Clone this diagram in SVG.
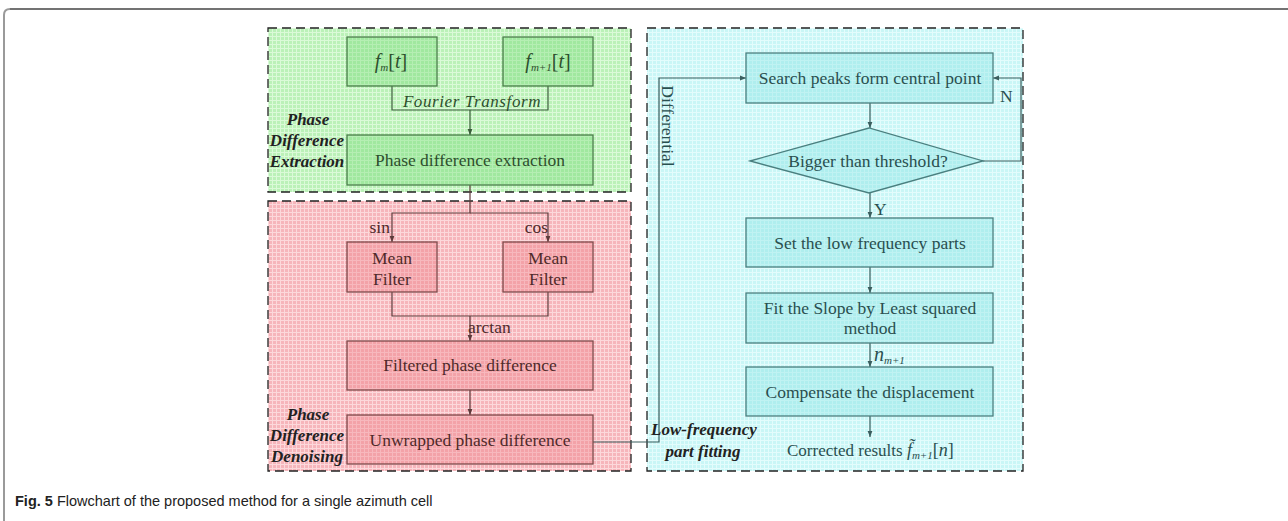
<svg xmlns="http://www.w3.org/2000/svg" width="1288" height="521" viewBox="0 0 1288 521">
  <defs>
    <pattern id="gridG" width="4" height="4" patternUnits="userSpaceOnUse">
      <rect width="4" height="4" fill="#bbf1b8"/>
      <path d="M0 0.5H4M0.5 0V4" stroke="#dbfad8" stroke-width="1"/>
    </pattern>
    <pattern id="gridR" width="4" height="4" patternUnits="userSpaceOnUse">
      <rect width="4" height="4" fill="#f6b5bb"/>
      <path d="M0 0.5H4M0.5 0V4" stroke="#fcd8db" stroke-width="1"/>
    </pattern>
    <pattern id="gridC" width="4" height="4" patternUnits="userSpaceOnUse">
      <rect width="4" height="4" fill="#c9f6f6"/>
      <path d="M0 0.5H4M0.5 0V4" stroke="#e3fcfc" stroke-width="1"/>
    </pattern>
    <marker id="ahG" viewBox="0 0 10 10" refX="10" refY="5" markerWidth="6" markerHeight="6" orient="auto" markerUnits="userSpaceOnUse">
      <path d="M0 1L10 5L0 9Z" fill="#3a5e3a"/>
    </marker>
    <marker id="ahR" viewBox="0 0 10 10" refX="10" refY="5" markerWidth="6" markerHeight="6" orient="auto" markerUnits="userSpaceOnUse">
      <path d="M0 1L10 5L0 9Z" fill="#5e3a3a"/>
    </marker>
    <marker id="ahC" viewBox="0 0 10 10" refX="10" refY="5" markerWidth="6" markerHeight="6" orient="auto" markerUnits="userSpaceOnUse">
      <path d="M0 1L10 5L0 9Z" fill="#3a5e5e"/>
    </marker>
  </defs>
  <style>
    .region { stroke: #222; stroke-width: 1.3; stroke-dasharray: 9 5; }
    .box { stroke-width: 1.3; }
    .g .box { fill: #6fd86f; fill-opacity: 0.35; stroke: #4a7f4a; }
    .r .box { fill: #ee7f88; fill-opacity: 0.35; stroke: #7f4a4a; }
    .c .box { fill: #7fe0e0; fill-opacity: 0.35; stroke: #4a7f7f; }
    text { font-family: "Liberation Serif", "Times New Roman", serif; font-size: 17.5px; }
    .mid { text-anchor: middle; }
    .gt { fill: #2e4f2e; }
    .rt { fill: #4f2a2a; }
    .ct { fill: #2a4f4f; }
    .lbl { font-weight: bold; font-style: italic; font-size: 17px; fill: #222; }
    .it { font-style: italic; }
    .sub { font-size: 11px; }
    text.math { font-size: 20px; }
    text.ft { font-size: 17px; letter-spacing: 0.6px; }
    text.res { font-size: 17px; }
    .wire { fill: none; stroke-width: 1.2; }
    .wg { stroke: #3a5e3a; }
    .wr { stroke: #5e3a3a; }
    .wc { stroke: #3a5e5e; }
    text.cap { font-family: "Liberation Sans", Arial, sans-serif; font-size: 14.5px; fill: #222; }
  </style>

  <!-- figure frame -->
  <path d="M10 9H1288" stroke="#444" stroke-width="1.3" fill="none"/>
  <path d="M4 521V15Q4 9 10 9" stroke="#9a9a9a" stroke-width="2" fill="none"/>

  <!-- stage backgrounds -->
  <g id="stage-extraction">
    <rect class="region" x="268" y="28" width="363" height="164" fill="url(#gridG)"/>
  </g>
  <g id="stage-denoising">
    <rect class="region" x="268" y="201" width="363" height="270" fill="url(#gridR)"/>
  </g>
  <g id="stage-fitting">
    <rect class="region" x="647" y="28" width="376" height="443" fill="url(#gridC)"/>
  </g>

  <!-- connectors -->
  <g id="connectors">
    <path class="wire wg" d="M392 86V110H548V86"/>
    <path class="wire wg" d="M470 110V135" marker-end="url(#ahG)"/>
    <path class="wire wr" d="M470 185V213H392V242" marker-end="url(#ahR)"/>
    <path class="wire wr" d="M470 213H548V242" marker-end="url(#ahR)"/>
    <path class="wire wr" d="M392 292V316H548V292"/>
    <path class="wire wr" d="M470 316V341" marker-end="url(#ahR)"/>
    <path class="wire wr" d="M470 390V415" marker-end="url(#ahR)"/>
    <path class="wire wc" d="M593 442H659V78H746" marker-end="url(#ahC)"/>
    <path class="wire wc" d="M870 103V128" marker-end="url(#ahC)"/>
    <path class="wire wc" d="M983 161H1021V78H993" marker-end="url(#ahC)"/>
    <path class="wire wc" d="M870 193V218" marker-end="url(#ahC)"/>
    <path class="wire wc" d="M870 267V293" marker-end="url(#ahC)"/>
    <path class="wire wc" d="M870 343V367" marker-end="url(#ahC)"/>
    <path class="wire wc" d="M870 416V437" marker-end="url(#ahC)"/>
    <text class="gt it mid ft" x="472" y="107">Fourier Transform</text>
    <text class="rt" x="390" y="233" text-anchor="end">sin</text>
    <text class="rt" x="548" y="233" text-anchor="end">cos</text>
    <text class="rt" x="468" y="333">arctan</text>
    <text class="ct mid" transform="translate(662 126) rotate(90)">Differential</text>
    <text class="ct" x="1000" y="102">N</text>
    <text class="ct" x="874" y="215">Y</text>
    <text class="ct it math" x="874" y="361">n<tspan class="sub" dy="3">m+1</tspan></text>
  </g>

  <!-- stage labels -->
  <g id="label-extraction">
    <text class="lbl mid" x="308" y="125">Phase</text>
    <text class="lbl mid" x="307" y="146">Difference</text>
    <text class="lbl mid" x="307" y="167">Extraction</text>
  </g>
  <g id="label-denoising">
    <text class="lbl mid" x="308" y="420">Phase</text>
    <text class="lbl mid" x="307" y="441">Difference</text>
    <text class="lbl mid" x="307" y="462">Denoising</text>
  </g>
  <g id="label-fitting">
    <text class="lbl mid" x="704" y="435">Low-frequency</text>
    <text class="lbl mid" x="703" y="457">part fitting</text>
  </g>

  <!-- extraction nodes -->
  <g id="signal-m" class="g">
    <rect class="box" x="347" y="37" width="90" height="49"/>
    <text class="gt mid math" x="391" y="68"><tspan class="it">f</tspan><tspan class="sub it" dy="3">m</tspan><tspan dy="-3">[</tspan><tspan class="it">t</tspan>]</text>
  </g>
  <g id="signal-m1" class="g">
    <rect class="box" x="503" y="37" width="90" height="49"/>
    <text class="gt mid math" x="548" y="68"><tspan class="it">f</tspan><tspan class="sub it" dy="3">m+1</tspan><tspan dy="-3">[</tspan><tspan class="it">t</tspan>]</text>
  </g>
  <g id="phase-extraction" class="g">
    <rect class="box" x="347" y="135" width="246" height="50"/>
    <text class="gt mid" x="470" y="166">Phase difference extraction</text>
  </g>

  <!-- denoising nodes -->
  <g id="mean-filter-sin" class="r">
    <rect class="box" x="347" y="242" width="90" height="50"/>
    <text class="rt mid" x="392" y="264">Mean</text>
    <text class="rt mid" x="392" y="285">Filter</text>
  </g>
  <g id="mean-filter-cos" class="r">
    <rect class="box" x="503" y="242" width="90" height="50"/>
    <text class="rt mid" x="548" y="264">Mean</text>
    <text class="rt mid" x="548" y="285">Filter</text>
  </g>
  <g id="filtered-phase" class="r">
    <rect class="box" x="347" y="341" width="246" height="49"/>
    <text class="rt mid" x="470" y="371">Filtered phase difference</text>
  </g>
  <g id="unwrapped-phase" class="r">
    <rect class="box" x="347" y="415" width="246" height="49"/>
    <text class="rt mid" x="470" y="446">Unwrapped phase difference</text>
  </g>

  <!-- fitting nodes -->
  <g id="search-peaks" class="c">
    <rect class="box" x="746" y="53" width="247" height="50"/>
    <text class="ct mid" x="870" y="84">Search peaks form central point</text>
  </g>
  <g id="threshold-check" class="c">
    <path class="box" d="M750 161L869 128L983 161L869 193Z"/>
    <text class="ct mid" x="868" y="167">Bigger than threshold?</text>
  </g>
  <g id="low-frequency" class="c">
    <rect class="box" x="746" y="218" width="247" height="49"/>
    <text class="ct mid" x="870" y="249">Set the low frequency parts</text>
  </g>
  <g id="slope-fit" class="c">
    <rect class="box" x="746" y="293" width="247" height="50"/>
    <text class="ct mid" x="870" y="314">Fit the Slope by Least squared</text>
    <text class="ct mid" x="870" y="334">method</text>
  </g>
  <g id="compensate" class="c">
    <rect class="box" x="746" y="367" width="247" height="49"/>
    <text class="ct mid" x="870" y="398">Compensate the displacement</text>
  </g>
  <g id="corrected-results">
    <text class="ct res" x="787" y="456">Corrected results <tspan class="it" font-size="18">f̃</tspan><tspan class="sub it" dy="3" font-size="10">m+1</tspan><tspan dy="-3" font-size="18">[</tspan><tspan class="it" font-size="18">n</tspan><tspan font-size="18">]</tspan></text>
  </g>

  <!-- caption -->
  <text class="cap" x="15" y="506"><tspan font-weight="bold">Fig. 5</tspan> Flowchart of the proposed method for a single azimuth cell</text>
</svg>
